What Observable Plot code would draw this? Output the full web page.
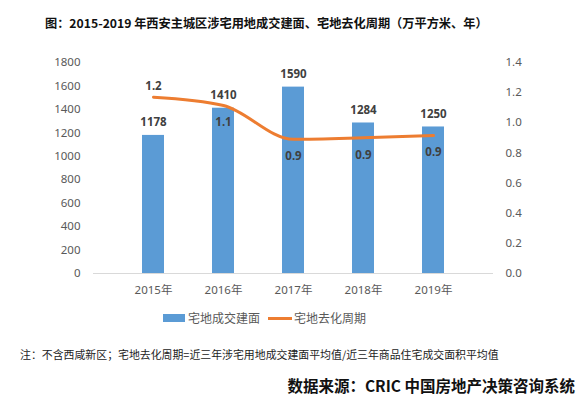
<!DOCTYPE html>
<html><head><meta charset="utf-8">
<script src="https://cdn.jsdelivr.net/npm/d3@7"></script>
<script src="https://cdn.jsdelivr.net/npm/@observablehq/plot@0.6"></script>
<style>
body{margin:0;background:#fff;font-family:"Noto Sans CJK SC","Noto Sans",sans-serif;}
#wrap{position:relative;width:582px;height:398px;overflow:hidden;}
#title{position:absolute;top:14px;left:45px;font-weight:bold;font-size:12.2px;color:#111;white-space:nowrap;}
#chart{position:absolute;top:45px;left:0;}
#legend{position:absolute;top:308px;left:0;width:582px;font-size:12px;color:#595959;}
#note{position:absolute;top:346px;left:20px;font-size:10.9px;color:#222;white-space:nowrap;}
#src{position:absolute;top:374px;right:7px;font-size:15.5px;font-weight:bold;color:#111;white-space:nowrap;}
.lg{position:absolute;top:0;line-height:20px;}
</style></head><body>
<div id="wrap">
<div id="title">图：2015-2019 年西安主城区涉宅用地成交建面、宅地去化周期（万平方米、年）</div>
<div id="chart"></div>
<div id="legend">
  <span class="lg" style="left:163px;top:6px;width:22px;height:8px;background:#5B9BD5;"></span>
  <span class="lg" style="left:188px;">宅地成交建面</span>
  <span class="lg" style="left:268px;top:9px;width:24px;height:3px;background:#ED7D31;"></span>
  <span class="lg" style="left:294px;">宅地去化周期</span>
</div>
<div id="note">注：不含西咸新区；宅地去化周期=近三年涉宅用地成交建面平均值/近三年商品住宅成交面积平均值</div>
<div id="src">数据来源：CRIC 中国房地产决策咨询系统</div>
</div>
<script>
const years = ["2015年","2016年","2017年","2018年","2019年"];
const area = [1178, 1410, 1590, 1284, 1250];
const cycle = [1.17, 1.115, 0.89, 0.90, 0.915];
const cycleLabels = ["1.2","1.1","0.9","0.9","0.9"];
const leftTicks = [0,200,400,600,800,1000,1200,1400,1600,1800];
const rightTicks = [0,0.2,0.4,0.6,0.8,1.0,1.2,1.4];

const yMax = 1800, rMax = 1.4;
const k = yMax / rMax;
const data = years.map((y, i) => ({year: y, area: area[i], cycle: cycle[i], cy: cycle[i] * k, cl: cycleLabels[i], i}));

const chart = Plot.plot({
  width: 582, height: 253,
  marginTop: 17, marginBottom: 25, marginLeft: 93, marginRight: 89,
  style: {fontFamily: "'Noto Sans', 'Noto Sans CJK SC', sans-serif", fontSize: "11.5px", color: "#595959"},
  x: {type: "band", domain: years, padding: 0.69, align: 0.5},
  y: {domain: [0, yMax]},
  marks: [
    Plot.axisX({tickSize: 0, tickPadding: 12, label: null, fill: "#595959", fontSize: 11.5}),
    Plot.axisY({anchor: "left", ticks: leftTicks, tickFormat: d => String(d), tickSize: 0, tickPadding: 13, label: null, fill: "#595959", fontSize: 11.5}),
    Plot.axisY({anchor: "right", ticks: rightTicks.map(v => v * k), tickFormat: v => (v / k).toFixed(1), tickSize: 0, tickPadding: 12, label: null, fill: "#595959", fontSize: 11.5}),
    Plot.barY(data, {x: "year", y: "area", fill: "#5B9BD5"}),
    Plot.ruleY([0], {stroke: "#D9D9D9", strokeWidth: 1}),
    Plot.text(data, {x: "year", y: "area", text: d => String(d.area), dy: -13, fontWeight: "bold", fill: "#404040", fontSize: 11.5}),
    Plot.line(data, {x: "year", y: "cy", stroke: "#ED7D31", strokeWidth: 3, curve: "monotone-x"}),
    Plot.text(data.filter(d => d.i === 0), {x: "year", y: "cy", text: "cl", dy: -11, fontWeight: "bold", fill: "#404040", fontSize: 11.5}),
    Plot.text(data.filter(d => d.i > 0), {x: "year", y: "cy", text: "cl", dy: 17, fontWeight: "bold", fill: "#404040", fontSize: 11.5})
  ]
});
document.getElementById("chart").appendChild(chart);
</script>
</body></html>
